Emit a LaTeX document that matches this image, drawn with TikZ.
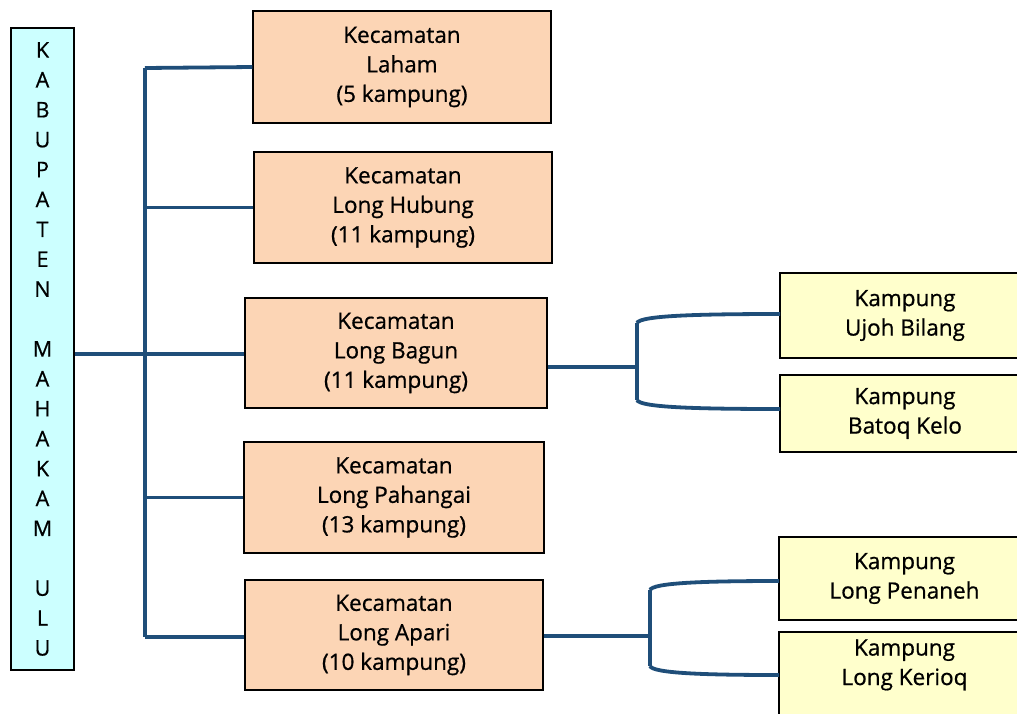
\documentclass[tikz,border=0pt]{standalone}
\usepackage{fontspec}
\setmainfont{Open Sans}
\newfontfamily\boxfont{Open Sans}[FakeBold=0.7]
\usetikzlibrary{shadows}
\definecolor{kecfill}{HTML}{FCD5B5}
\definecolor{kamfill}{HTML}{FFFFCC}
\definecolor{kabfill}{HTML}{CCFFFF}
\definecolor{conncol}{HTML}{1F4E79}
\begin{document}
\begin{tikzpicture}[x=1pt,y=-1pt,
  box/.style={draw=black,line width=1.4pt,rectangle,inner sep=0pt,align=center,
    font=\boxfont\fontsize{22.5}{29.5}\selectfont,
    drop shadow={shadow xshift=1.2pt,shadow yshift=-1.2pt,fill=black!35,opacity=0.6}},
  kec/.style={box,fill=kecfill},
  kam/.style={box,fill=kamfill},
  conn/.style={draw=conncol,line width=3.8pt,line cap=butt}]
\useasboundingbox (0,0) rectangle (1017,713);
\begin{scope}
\clip (0,0) rectangle (1017,713);
% left box
\node[box,fill=kabfill,minimum width=63pt,minimum height=642pt,font=\boxfont\fontsize{21.5}{29.9}\selectfont] (L) at (42.5,349)
  {K\\A\\B\\U\\P\\A\\T\\E\\N\\\strut\\M\\A\\H\\A\\K\\A\\M\\\strut\\U\\L\\U};
% kecamatan boxes
\node[kec,minimum width=298pt,minimum height=112pt] (b1) at (402,67) {Kecamatan\\Laham\\(5 kampung)};
\node[kec,minimum width=298pt,minimum height=111pt] (b2) at (403,207.5) {Kecamatan\\Long Hubung\\(11 kampung)};
\node[kec,minimum width=302pt,minimum height=110pt] (b3) at (396,353) {Kecamatan\\Long Bagun\\(11 kampung)};
\node[kec,minimum width=300pt,minimum height=111pt] (b4) at (394,497.5) {Kecamatan\\Long Pahangai\\(13 kampung)};
\node[kec,minimum width=298pt,minimum height=110pt] (b5) at (394,635) {Kecamatan\\Long Apari\\(10 kampung)};
% kampung boxes
\node[kam,minimum width=250pt,minimum height=85pt] (k1) at (905,315.5) {Kampung\\Ujoh Bilang};
\node[kam,minimum width=250pt,minimum height=77pt] (k2) at (905,413.5) {Kampung\\Batoq Kelo};
\node[kam,minimum width=251pt,minimum height=83pt] (k3) at (904.5,578.5) {Kampung\\Long Penaneh};
\node[kam,minimum width=251pt,minimum height=96pt] (k4) at (904.5,680) {Kampung\\Long Kerioq\\[6pt]};
% bus
\coordinate (bt) at (145,68);
\coordinate (bb) at (145,637);
\draw[conn] (bt) -- (bb);
\draw[conn] (bt) -- (b1.west);
\draw[conn] (b2.west -| bt) -- (b2.west);
\draw[conn] (L.east |- 0,354) -- (b3.west |- 0,354);
\draw[conn] (b4.west -| bt) -- (b4.west);
\draw[conn] (bb) -- (b5.west |- bb);
% fork 1
\coordinate (f1) at (637,367);
\coordinate (f1t) at (637,323);
\coordinate (f1b) at (637,400);
\coordinate (k1in) at (780,314);
\coordinate (k2in) at (780,409);
\draw[conn] (b3.east |- f1) -- (f1);
\draw[conn] (f1t) -- (f1b);
\draw[conn] (f1t) .. controls (640,316) and (690,314) .. (k1in);
\draw[conn] (f1b) .. controls (640,407) and (690,409) .. (k2in);
% fork 2
\coordinate (f2) at (650,636);
\coordinate (f2t) at (650,590);
\coordinate (f2b) at (650,666);
\coordinate (k3in) at (779,581);
\coordinate (k4in) at (779,675);
\draw[conn] (b5.east |- f2) -- (f2);
\draw[conn] (f2t) -- (f2b);
\draw[conn] (f2t) .. controls (653,583) and (700,581) .. (k3in);
\draw[conn] (f2b) .. controls (653,673) and (700,675) .. (k4in);
\end{scope}
\end{tikzpicture}
\end{document}
